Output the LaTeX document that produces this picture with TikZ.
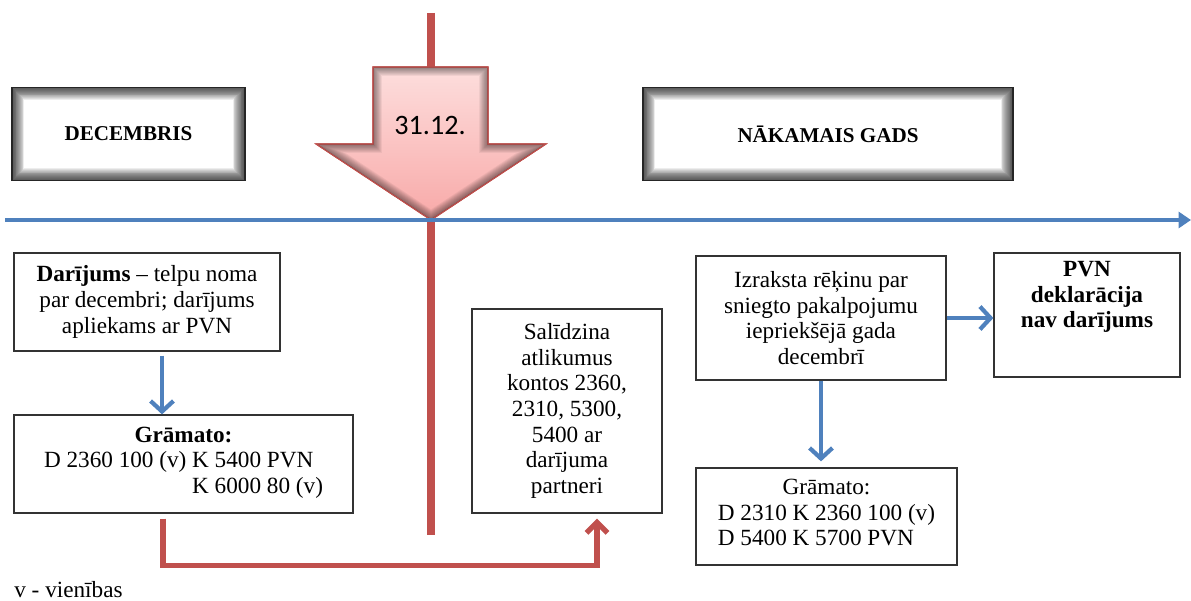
\documentclass[tikz,border=0pt]{standalone}
\usepackage{fontspec}
\setmainfont{Liberation Serif}
\newfontfamily\datefont{Carlito}
\usepackage{tikz}
\usetikzlibrary{calc, positioning, arrows.meta}
\definecolor{axisred}{HTML}{C0504D}
\definecolor{axisblue}{HTML}{4F81BD}
\definecolor{pinktop}{HTML}{FDDEDD}
\definecolor{pinkbot}{HTML}{F8A9A8}

\begin{document}
\begin{tikzpicture}[
        txt/.style={draw=black!80, line width=0.7pt, fill=white, align=center, inner sep=2pt,
            font=\fontsize{13.2}{14.6}\selectfont},
        period/.style={draw=black!85, line width=0.9pt, fill=white, minimum height=1.86cm,
            font=\bfseries\fontsize{12}{14}\selectfont,
            path picture={\foreach \glw in {1,2,...,14}
                \draw[line width=\glw pt, black, opacity=0.07] (path picture bounding box.south west) rectangle (path picture bounding box.north east);}},
        bluearr/.style={axisblue, line width=2.4pt, -{Straight Barb[length=6pt,width=13pt]}},
        redarr/.style={axisred, line width=3pt, -{Straight Barb[length=6pt,width=12pt]}}
    ]
        \useasboundingbox (0,0) rectangle (23.82,-12.02);

        % Periods
        \node[period, minimum width=4.66cm] (dec) at (2.57,-2.68) {DECEMBRIS};
        \node[period, minimum width=7.4cm] (nak) at (16.56,-2.68) {NĀKAMAIS GADS};

        % Year end
        \draw[axisred, line width=4pt] (8.62,-0.26) -- (8.62,-10.7);
        \coordinate (sl) at (7.46,-1.34);
        \coordinate (sr) at (9.76,-1.34);
        \coordinate (mr) at (9.76,-2.88);
        \coordinate (hr) at (10.92,-2.88);
        \coordinate (tip) at (8.62,-4.4);
        \coordinate (hl) at (6.32,-2.88);
        \coordinate (ml) at (7.46,-2.88);
        \draw[axisred, line width=0.6pt, top color=pinktop, bottom color=pinkbot]
            (sl) -- (sr) -- (mr) -- (hr) -- (tip) -- (hl) -- (ml) -- cycle;
        \begin{scope}
            \clip (sl) -- (sr) -- (mr) -- (hr) -- (tip) -- (hl) -- (ml) -- cycle;
            \foreach \glw in {1,2,...,10}
                \draw[line width=\glw pt, black, opacity=0.05] (sl) -- (sr) -- (mr) -- (hr) -- (tip) -- (hl) -- (ml) -- cycle;
        \end{scope}
        \draw[axisred, line width=0.6pt] (sl) -- (sr) -- (mr) -- (hr) -- (tip) -- (hl) -- (ml) -- cycle;
        \node[font=\datefont\fontsize{16}{18}\selectfont] (date) at (8.6,-2.5) {31.12.};

        % Time axis
        \draw[axisblue, line width=2.2pt, -{Triangle[length=7pt,width=9pt]}] (0.1,-4.4) -- (23.82,-4.4);

        % December
        \node[txt, minimum width=5.32cm, minimum height=1.96cm] (dar) at (2.94,-6.04)
            {\textbf{Darījums} – telpu noma\\ par decembri; darījums\\ apliekams ar PVN};
        \node[txt, minimum width=6.78cm, minimum height=1.96cm] (gr1) at (3.67,-9.28)
            {\textbf{Grāmato:}\\ \begin{tabular}[t]{@{}l@{ }l@{}} D 2360 100 (v) & K 5400 PVN\\ & K 6000 80 (v)\end{tabular}};
        \node[txt, minimum width=3.8cm, minimum height=4.08cm] (sal) at (11.34,-8.22)
            {Salīdzina\\ atlikumus\\ kontos 2360,\\ 2310, 5300,\\ 5400 ar\\ darījuma\\ partneri};

        % Next year
        \node[txt, minimum width=5.0cm, minimum height=2.48cm] (izr) at (16.42,-6.36)
            {Izraksta rēķinu par\\ sniegto pakalpojumu\\ iepriekšējā gada\\ decembrī};
        \node[txt, minimum width=3.72cm, minimum height=2.48cm, font=\bfseries\fontsize{13.2}{14.6}\selectfont] (pvn) at (21.74,-6.3)
            {\parbox[c][2.15cm][t]{3.4cm}{\centering PVN\\ deklarācija\\ nav darījums}};
        \node[txt, minimum width=5.22cm, minimum height=1.94cm] (gr2) at (16.53,-10.33)
            {Grāmato:\\ \begin{tabular}[t]{@{}l@{}} D 2310 K 2360 100 (v)\\ D 5400 K 5700 PVN\end{tabular}};

        \node[anchor=west, inner sep=0pt, font=\fontsize{13.2}{14.6}\selectfont] (legend) at (0.28,-11.8) {v - vienības};

        % Flow
        \coordinate (a1) at ([xshift=0.3cm, yshift=-0.08cm]dar.south);
        \draw[bluearr] (a1) -- (a1 |- gr1.north);
        \draw[bluearr] (izr.east) -- (izr.east -| pvn.west);
        \draw[bluearr] (izr.south) -- ($(izr.south |- gr2.north)+(0,0.12)$);
        \coordinate (r1) at ([xshift=-0.41cm, yshift=-0.1cm]gr1.south);
        \coordinate (r2) at ([xshift=0.6cm, yshift=-0.1cm]sal.south);
        \draw[redarr] (r1) -- ++(0,-0.94) -| (r2);
    \end{tikzpicture}
\end{document}
